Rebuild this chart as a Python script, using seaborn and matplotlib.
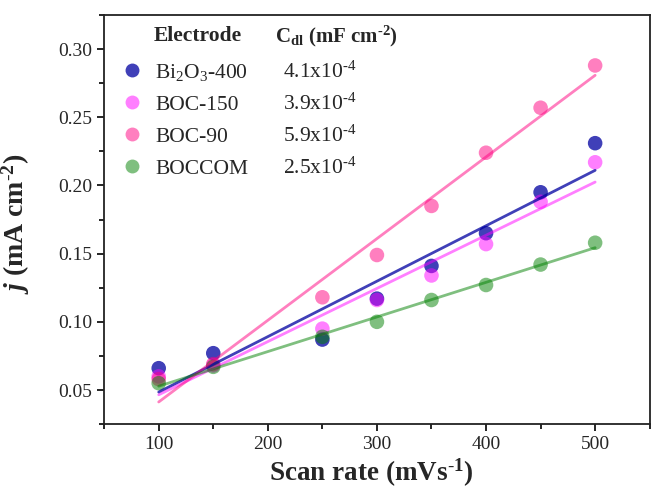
import seaborn as sns
import pandas as pd
import numpy as np
import matplotlib.pyplot as plt
from matplotlib.lines import Line2D
from matplotlib.ticker import MultipleLocator

sns.set_style('ticks')
plt.rcParams['font.family'] = ['Liberation Serif', 'DejaVu Serif']
plt.rcParams['mathtext.fontset'] = 'custom'
plt.rcParams['mathtext.rm'] = 'Liberation Serif'
plt.rcParams['mathtext.it'] = 'Liberation Serif:italic'
plt.rcParams['mathtext.bf'] = 'Liberation Serif:bold'
plt.rcParams['mathtext.bfit'] = 'Liberation Serif:italic:bold'
plt.rcParams['mathtext.default'] = 'regular'

scan_rate = [100, 150, 250, 300, 350, 400, 450, 500]
bi2o3_400 = [0.066, 0.077, 0.087, 0.117, 0.141, 0.165, 0.195, 0.231]
boc_150 = [0.060, 0.068, 0.095, 0.116, 0.134, 0.157, 0.188, 0.217]
boc_90 = [0.058, 0.069, 0.118, 0.149, 0.185, 0.224, 0.257, 0.288]
boccom = [0.055, 0.067, 0.089, 0.100, 0.116, 0.127, 0.142, 0.158]

names = ['Bi$_2$O$_3$-400', 'BOC-150', 'BOC-90', 'BOCCOM']
cdl = [r'4.1x10$^{\text{-}4}$', r'3.9x10$^{\text{-}4}$',
       r'5.9x10$^{\text{-}4}$', r'2.5x10$^{\text{-}4}$']
colors = ['#0000a0', '#ff00ff', '#ff0080', '#008000']
alphas = [0.75, 0.5, 0.5, 0.5]

series = [bi2o3_400, boc_150, boc_90, boccom]

fig, ax = plt.subplots(figsize=(6.51, 4.92), dpi=100)
fig.subplots_adjust(left=0.16, right=0.998, bottom=0.138, top=0.9695)

for name, vals, c, a in zip(names, series, colors, alphas):
    df = pd.DataFrame({'x': scan_rate, 'y': vals})
    sns.regplot(data=df, x='x', y='y', scatter=False, ci=None, ax=ax,
                color=c, line_kws={'linewidth': 2, 'alpha': a})
    sns.scatterplot(data=df, x='x', y='y', ax=ax, color=c, alpha=a,
                    s=110, edgecolor='none')

ax.set_xlim(50, 550)
ax.set_ylim(0.025, 0.325)
ax.xaxis.set_major_locator(MultipleLocator(100))
ax.xaxis.set_minor_locator(MultipleLocator(50))
ax.yaxis.set_major_locator(MultipleLocator(0.05))
ax.yaxis.set_minor_locator(MultipleLocator(0.025))
ax.yaxis.set_major_formatter(plt.FormatStrFormatter('%.2f'))
ax.tick_params(which='major', direction='out', length=5, width=1.2, labelsize=14, color='black')
ax.tick_params(which='minor', direction='out', length=3.5, width=1.2, color='black')
for sp in ax.spines.values():
    sp.set_linewidth(1.3)
    sp.set_color('#222222')

ax.set_xlabel(r'Scan rate (mVs$^{\text{-}1}$)', fontsize=19.5, fontweight='bold')
ax.set_ylabel(r'$\mathbfit{j}$ (mA cm$^{\text{-}2}$)', fontsize=20, fontweight='bold')
ax.xaxis.set_label_coords(0.489, -0.08)
ax.yaxis.set_label_coords(-0.132, 0.49)

handles = [Line2D([], [], linestyle='none', marker='o', markersize=10,
                  markerfacecolor=c, markeredgecolor='none', alpha=a)
           for c, a in zip(colors, alphas)]
leg = ax.legend(handles, names, loc='upper left', bbox_to_anchor=(-0.004, 0.933),
                frameon=False, fontsize=15.5, handlelength=1.0,
                handletextpad=0.57, labelspacing=0.55, borderaxespad=0.5)

# table header
ax.text(0.0916, 0.9487, 'Electrode', transform=ax.transAxes, fontsize=15.5,
        fontweight='bold', va='center', ha='left')
ax.text(0.313, 0.9487, r'C$_{dl}$ (mF cm$^{\text{-}2}$)', transform=ax.transAxes,
        fontsize=15, fontweight='bold', va='center', ha='left')

# Cdl column, aligned to the baselines of the legend rows
fig.canvas.draw()
r = fig.canvas.get_renderer()
for t, val in zip(leg.get_texts(), cdl):
    bb = t.get_window_extent(r)
    descent = t._get_layout(r)[2]
    y = ax.transAxes.inverted().transform((0, bb.y0 + descent))[1]
    ax.text(0.328, y, val, transform=ax.transAxes, fontsize=15.5,
            va='baseline', ha='left')

fig.savefig('out.png', dpi=100)
